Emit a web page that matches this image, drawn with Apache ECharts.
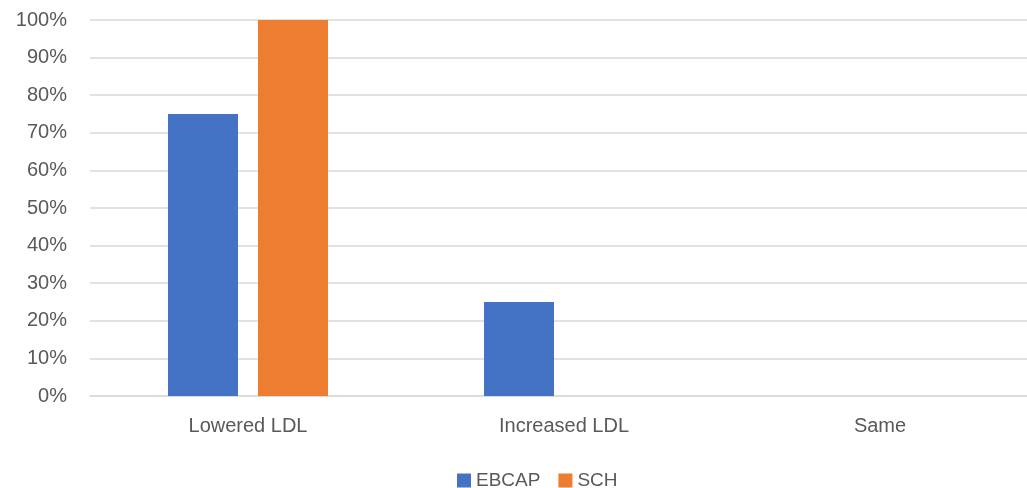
<!DOCTYPE html>
<html>
<head>
<meta charset="utf-8">
<script src="https://cdn.jsdelivr.net/npm/echarts@6/dist/echarts.min.js"></script>
<style>
  html, body { margin: 0; padding: 0; background: #fff; }
  #chart { width: 1027px; height: 488px; }
</style>
</head>
<body>
<div id="chart"></div>
<script>
// chart data
const categories = ['Lowered LDL', 'Increased LDL', 'Same'];
const ebcapValues = [75, 25, 0];
const schValues = [100, 0, 0];

const chart = echarts.init(document.getElementById('chart'));

const font = "Liberation Sans, Arial, sans-serif";

chart.setOption({
    animation: false,
    textStyle: { fontFamily: font },
    grid: {
        left: 90,
        top: 20,
        width: 948,
        height: 376,
        outerBoundsMode: 'none'
    },
    legend: {
        data: ['EBCAP', 'SCH'],
        left: 452,
        top: 466,
        itemWidth: 14,
        itemHeight: 14,
        itemGap: 18,
        icon: 'rect',
        textStyle: { fontSize: 19, color: '#595959', fontFamily: font }
    },
    xAxis: {
        type: 'category',
        data: categories,
        axisLine: { lineStyle: { color: '#d9d9d9', width: 1.5 } },
        axisTick: { show: false },
        axisLabel: { fontSize: 20, color: '#595959', margin: 20 }
    },
    yAxis: {
        type: 'value',
        min: 0,
        max: 100,
        interval: 10,
        axisLabel: { fontSize: 20, color: '#595959', margin: 23, formatter: '{value}%' },
        splitLine: { lineStyle: { color: '#d9d9d9', width: 1.5 } },
        axisLine: { show: false },
        axisTick: { show: false }
    },
    series: [
        {
            name: 'EBCAP',
            type: 'bar',
            data: ebcapValues,
            barWidth: 70,
            barGap: '28.6%',
            itemStyle: { color: '#4472C4' }
        },
        {
            name: 'SCH',
            type: 'bar',
            data: schValues,
            barWidth: 70,
            itemStyle: { color: '#ED7D31' }
        }
    ]
});
</script>
</body>
</html>
